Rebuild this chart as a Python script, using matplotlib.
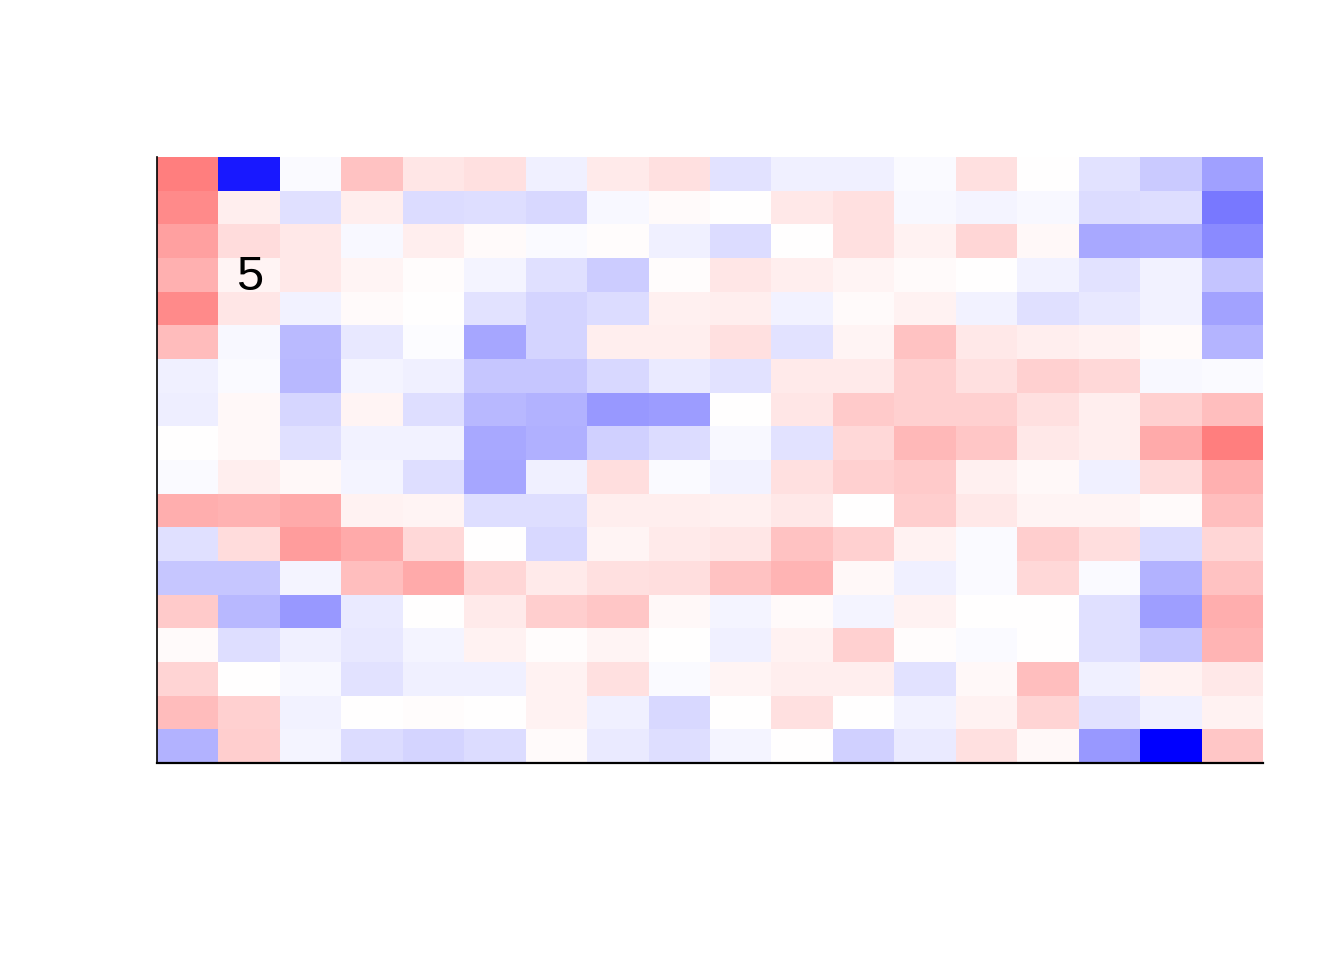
import numpy as np
import matplotlib
matplotlib.use("Agg")
import matplotlib.pyplot as plt
from matplotlib.colors import LinearSegmentedColormap

# rows listed top to bottom, 18 columns each
row01 = [0.50, -0.90, -0.02, 0.24, 0.10, 0.12, -0.06, 0.08, 0.12, -0.11, -0.06, -0.06, -0.02, 0.12, 0.00, -0.11, -0.21, -0.37]
row02 = [0.46, 0.07, -0.12, 0.07, -0.14, -0.13, -0.15, -0.03, 0.02, 0.00, 0.09, 0.12, -0.03, -0.04, -0.03, -0.14, -0.13, -0.53]
row03 = [0.37, 0.14, 0.09, -0.03, 0.07, 0.02, -0.02, 0.01, -0.06, -0.14, 0.00, 0.12, 0.05, 0.16, 0.03, -0.34, -0.33, -0.46]
row04 = [0.31, 0.04, 0.09, 0.04, 0.01, -0.04, -0.12, -0.20, 0.01, 0.10, 0.07, 0.04, 0.02, 0.00, -0.05, -0.11, -0.05, -0.23]
row05 = [0.46, 0.10, -0.05, 0.02, 0.00, -0.11, -0.17, -0.14, 0.06, 0.07, -0.05, 0.02, 0.05, -0.05, -0.12, -0.09, -0.05, -0.36]
row06 = [0.26, -0.03, -0.27, -0.09, -0.01, -0.35, -0.17, 0.07, 0.07, 0.12, -0.11, 0.04, 0.24, 0.09, 0.07, 0.05, 0.02, -0.29]
row07 = [-0.06, -0.02, -0.28, -0.04, -0.06, -0.22, -0.22, -0.15, -0.08, -0.11, 0.08, 0.08, 0.18, 0.12, 0.18, 0.15, -0.03, -0.02]
row08 = [-0.07, 0.03, -0.16, 0.04, -0.13, -0.28, -0.30, -0.40, -0.39, 0.00, 0.10, 0.21, 0.18, 0.18, 0.12, 0.07, 0.18, 0.25]
row09 = [0.00, 0.03, -0.12, -0.05, -0.05, -0.34, -0.31, -0.18, -0.14, -0.03, -0.11, 0.15, 0.28, 0.22, 0.09, 0.07, 0.33, 0.50]
row10 = [-0.02, 0.07, 0.03, -0.04, -0.13, -0.35, -0.06, 0.13, -0.02, -0.05, 0.12, 0.18, 0.21, 0.06, 0.03, -0.06, 0.14, 0.31]
row11 = [0.32, 0.30, 0.33, 0.05, 0.04, -0.13, -0.13, 0.07, 0.07, 0.06, 0.09, 0.00, 0.19, 0.09, 0.04, 0.04, 0.02, 0.25]
row12 = [-0.12, 0.14, 0.39, 0.33, 0.15, 0.00, -0.15, 0.04, 0.08, 0.10, 0.24, 0.18, 0.05, -0.02, 0.19, 0.13, -0.14, 0.16]
row13 = [-0.22, -0.22, -0.04, 0.25, 0.33, 0.16, 0.08, 0.12, 0.13, 0.24, 0.29, 0.03, -0.06, -0.02, 0.15, -0.02, -0.30, 0.24]
row14 = [0.21, -0.28, -0.40, -0.08, 0.00, 0.08, 0.19, 0.22, 0.03, -0.04, 0.02, -0.04, 0.05, 0.00, 0.00, -0.12, -0.38, 0.32]
row15 = [0.02, -0.13, -0.06, -0.09, -0.04, 0.05, 0.01, 0.04, 0.00, -0.06, 0.05, 0.18, 0.01, -0.02, 0.00, -0.12, -0.22, 0.29]
row16 = [0.17, 0.00, -0.03, -0.11, -0.06, -0.06, 0.05, 0.12, -0.02, 0.04, 0.07, 0.07, -0.11, 0.03, 0.25, -0.06, 0.05, 0.09]
row17 = [0.26, 0.18, -0.05, 0.00, 0.01, 0.00, 0.05, -0.06, -0.15, 0.00, 0.12, 0.00, -0.05, 0.05, 0.17, -0.11, -0.06, 0.05]
row18 = [-0.30, 0.19, -0.04, -0.14, -0.17, -0.14, 0.02, -0.08, -0.13, -0.04, 0.00, -0.18, -0.08, 0.12, 0.03, -0.40, -1.00, 0.22]

rows = [row01, row02, row03, row04, row05, row06, row07, row08, row09,
        row10, row11, row12, row13, row14, row15, row16, row17, row18]

label_text = "5"
label_row = 3   # 0-based from top
label_col = 1   # 0-based from left

data = np.array(rows)
nrows, ncols = data.shape

cmap = LinearSegmentedColormap.from_list("bwr_lin", [(0, 0, 1), (1, 1, 1), (1, 0, 0)])

fig = plt.figure(figsize=(13.44, 9.6), dpi=100)
ax = fig.add_axes([157/1344, 1 - 763/960, (1263-157)/1344, (763-157)/960])
ax.pcolormesh(np.arange(ncols + 1), np.arange(nrows + 1), data[::-1],
              cmap=cmap, vmin=-1, vmax=1, shading="flat")
ax.set_xlim(0, ncols)
ax.set_ylim(0, nrows)
ax.text(label_col + 0.5, nrows - label_row - 0.58, label_text, ha="center", va="center",
        fontsize=35, family="Liberation Sans", color="black")
ax.set_xticks([])
ax.set_yticks([])
for s in ["top", "right"]:
    ax.spines[s].set_visible(False)
ax.spines["left"].set_linewidth(1.2)
ax.spines["bottom"].set_linewidth(1.6)
fig.savefig("out.png", dpi=100, facecolor="white")
